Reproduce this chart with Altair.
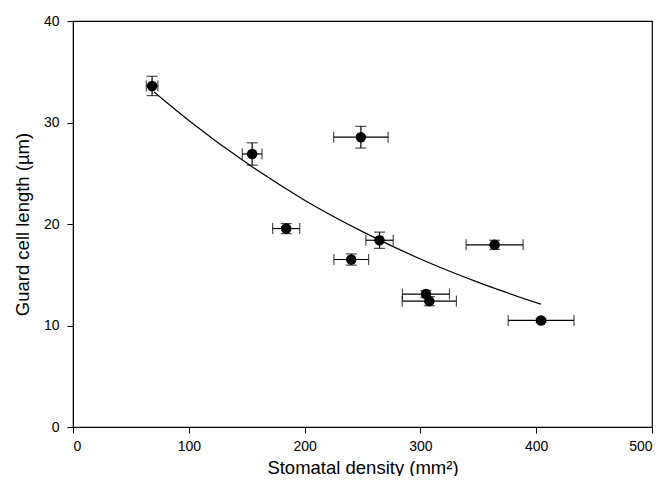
import altair as alt
import pandas as pd

# Data
density = [68.3, 154.7, 184.1, 248.6, 264.7, 240.3, 304.8, 307.7, 364.1, 404.2]
density_err = [5.0, 8.5, 11.7, 23.5, 11.8, 15.0, 20.3, 23.4, 24.6, 28.4]
guard_len = [33.6, 26.9, 19.55, 28.55, 18.4, 16.5, 13.1, 12.4, 17.95, 10.5]
guard_err = [0.95, 1.1, 0.5, 1.07, 0.8, 0.55, 0.35, 0.45, 0.45, 0.2]

curve_x = [70, 100, 150, 200, 250, 300, 350, 404]
curve_y = [33.0, 30.2, 26.0, 22.35, 19.25, 16.55, 14.25, 12.1]

x_ticks = [0, 100, 200, 300, 400, 500]
y_ticks = [0, 10, 20, 30, 40]

df = pd.DataFrame({
    "x": density,
    "y": guard_len,
    "xlo": [a - b for a, b in zip(density, density_err)],
    "xhi": [a + b for a, b in zip(density, density_err)],
    "ylo": [a - b for a, b in zip(guard_len, guard_err)],
    "yhi": [a + b for a, b in zip(guard_len, guard_err)],
})
cdf = pd.DataFrame({"x": curve_x, "y": curve_y})

FONT = "Liberation Sans"

xscale = alt.Scale(domain=[0, 500], nice=False)
yscale = alt.Scale(domain=[0, 40], nice=False)

xaxis = alt.Axis(values=x_ticks, title="Stomatal density (mm²)", grid=False,
                 domainColor="black", tickColor="black", tickSize=6,
                 labelColor="black", labelFontSize=14, labelFont=FONT,
                 labelPadding=6, titleFont=FONT, titleFontSize=18.5,
                 titleFontWeight="normal", titleColor="black", titlePadding=5)
yaxis = alt.Axis(values=y_ticks, title="Guard cell length (µm)", grid=False,
                 domainColor="black", tickColor="black", tickSize=6,
                 labelColor="black", labelFontSize=14, labelFont=FONT,
                 labelPadding=8, titleFont=FONT, titleFontSize=18.5,
                 titleFontWeight="normal", titleColor="black", titlePadding=11)

base = alt.Chart(df)

curve = alt.Chart(cdf).mark_line(color="black", strokeWidth=1.2, interpolate="monotone").encode(
    x=alt.X("x:Q", scale=xscale, axis=xaxis),
    y=alt.Y("y:Q", scale=yscale, axis=yaxis),
)

xbars = base.mark_rule(color="black", strokeWidth=1.2).encode(
    x=alt.X("xlo:Q", scale=xscale), x2="xhi:Q", y=alt.Y("y:Q", scale=yscale))
ybars = base.mark_rule(color="black", strokeWidth=1.2).encode(
    y=alt.Y("ylo:Q", scale=yscale), y2="yhi:Q", x=alt.X("x:Q", scale=xscale))

xcap_lo = base.mark_tick(color="black", orient="vertical", size=11, thickness=1.2).encode(
    x=alt.X("xlo:Q", scale=xscale), y=alt.Y("y:Q", scale=yscale))
xcap_hi = base.mark_tick(color="black", orient="vertical", size=11, thickness=1.2).encode(
    x=alt.X("xhi:Q", scale=xscale), y=alt.Y("y:Q", scale=yscale))
ycap_lo = base.mark_tick(color="black", orient="horizontal", size=11, thickness=1.2).encode(
    x=alt.X("x:Q", scale=xscale), y=alt.Y("ylo:Q", scale=yscale))
ycap_hi = base.mark_tick(color="black", orient="horizontal", size=11, thickness=1.2).encode(
    x=alt.X("x:Q", scale=xscale), y=alt.Y("yhi:Q", scale=yscale))

points = base.mark_circle(color="black", opacity=1, size=110).encode(
    x=alt.X("x:Q", scale=xscale), y=alt.Y("y:Q", scale=yscale))

chart = alt.layer(curve, xbars, ybars, xcap_lo, xcap_hi, ycap_lo, ycap_hi, points).properties(
    width=579, height=406,
    autosize=alt.AutoSizeParams(type="none"),
    padding={"left": 65, "top": 13, "right": 4, "bottom": 49},
    background="white",
).configure_view(stroke="black", strokeWidth=1.2)

chart.save("out.html", embed_options={"renderer": "svg", "actions": False})
